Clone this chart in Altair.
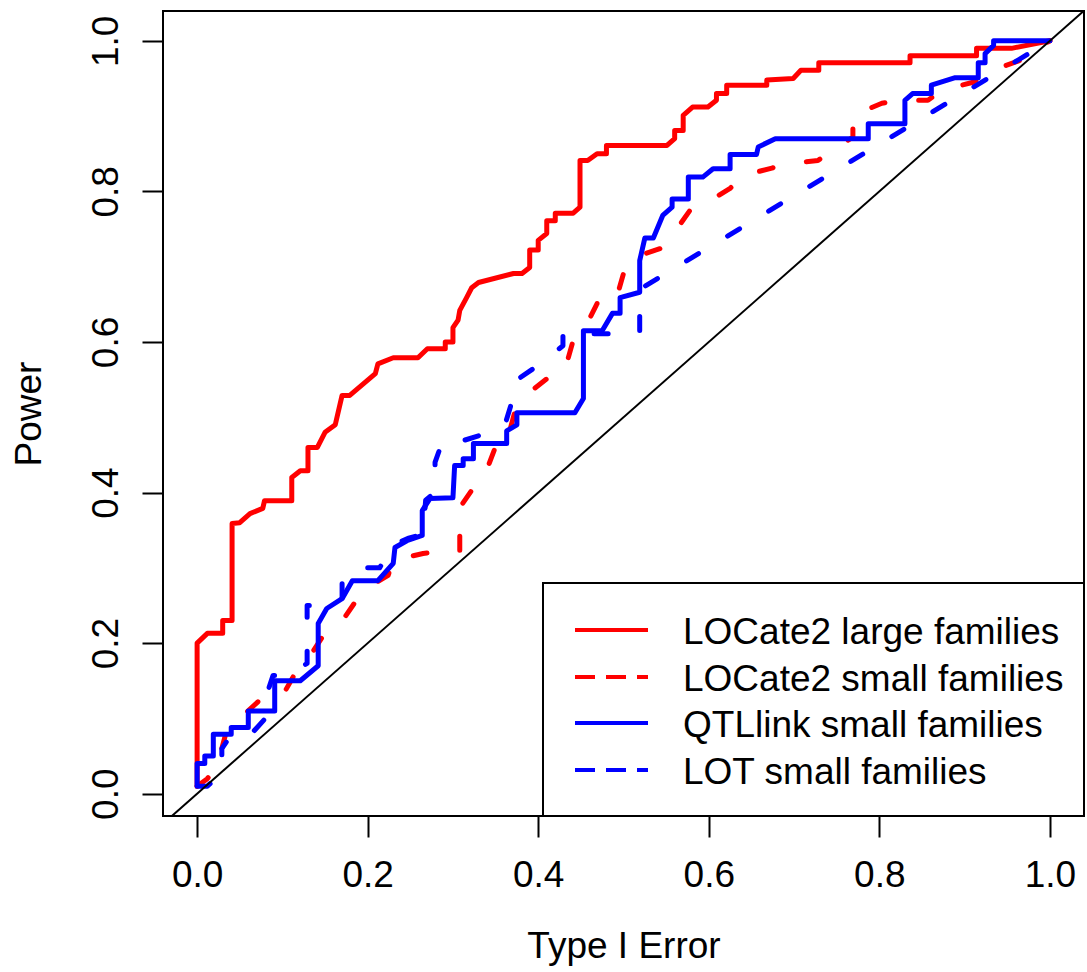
import altair as alt
import pandas as pd

# ---------------- data ----------------
series_names = ["LOCate2 large families", "LOCate2 small families",
                "QTLlink small families", "LOT small families"]
series_colors = ["#FF0000", "#FF0000", "#0000FF", "#0000FF"]
series_dashed = [False, True, False, True]
x_ticks = [0.0, 0.2, 0.4, 0.6, 0.8, 1.0]
y_ticks = [0.0, 0.2, 0.4, 0.6, 0.8, 1.0]

locate2_large = [
    (0, 0.01), (0, 0.2), (0.012, 0.213), (0.03, 0.213), (0.03, 0.23), (0.041, 0.23),
    (0.041, 0.359), (0.05, 0.36), (0.062, 0.372), (0.077, 0.379), (0.079, 0.389),
    (0.111, 0.389), (0.111, 0.42), (0.121, 0.429), (0.130, 0.429), (0.130, 0.46),
    (0.141, 0.46), (0.150, 0.48), (0.162, 0.49), (0.170, 0.529), (0.179, 0.529),
    (0.209, 0.558), (0.212, 0.571), (0.23, 0.579), (0.259, 0.579), (0.27, 0.591),
    (0.291, 0.591), (0.291, 0.6), (0.3, 0.6), (0.3, 0.619), (0.306, 0.629),
    (0.308, 0.642), (0.316, 0.659), (0.322, 0.672), (0.33, 0.679), (0.371, 0.691),
    (0.381, 0.691), (0.39, 0.699), (0.39, 0.722), (0.4, 0.722), (0.4, 0.735),
    (0.41, 0.744), (0.41, 0.761), (0.42, 0.761), (0.42, 0.771), (0.441, 0.771),
    (0.449, 0.779), (0.449, 0.841), (0.458, 0.841), (0.469, 0.85), (0.48, 0.85),
    (0.48, 0.861), (0.551, 0.861), (0.56, 0.87), (0.56, 0.881), (0.57, 0.881),
    (0.57, 0.901), (0.581, 0.912), (0.599, 0.912), (0.609, 0.921), (0.609, 0.93),
    (0.621, 0.93), (0.621, 0.941), (0.668, 0.941), (0.668, 0.948), (0.699, 0.95),
    (0.708, 0.961), (0.729, 0.961), (0.729, 0.971), (0.836, 0.971), (0.836, 0.98),
    (0.914, 0.98), (0.914, 0.99), (0.955, 0.99), (1.0, 1.0),
]

locate2_small = [
    (0, 0.01), (0.012, 0.02), (0.029, 0.044), (0.029, 0.06), (0.036, 0.09),
    (0.05, 0.10), (0.077, 0.128), (0.1, 0.13), (0.115, 0.16), (0.129, 0.177),
    (0.148, 0.21), (0.168, 0.226), (0.185, 0.254), (0.197, 0.272), (0.224, 0.29),
    (0.23, 0.31), (0.265, 0.319), (0.287, 0.322), (0.308, 0.322), (0.308, 0.38),
    (0.322, 0.403), (0.338, 0.425), (0.349, 0.458), (0.361, 0.458), (0.373, 0.509),
    (0.385, 0.529), (0.41, 0.551), (0.431, 0.562), (0.44, 0.598), (0.453, 0.615),
    (0.469, 0.651), (0.49, 0.651), (0.5, 0.691), (0.511, 0.712), (0.543, 0.724),
    (0.557, 0.741), (0.578, 0.775), (0.596, 0.784), (0.625, 0.804), (0.64, 0.821),
    (0.674, 0.831), (0.693, 0.837), (0.728, 0.841), (0.744, 0.854), (0.769, 0.872),
    (0.769, 0.901), (0.803, 0.917), (0.822, 0.921), (0.857, 0.921), (0.873, 0.934),
    (0.91, 0.945), (0.93, 0.96), (0.965, 0.974), (0.985, 0.99), (1.0, 1.0),
]

qtllink_small = [
    (0, 0.012), (0, 0.04), (0.009, 0.04), (0.009, 0.05), (0.019, 0.05), (0.019, 0.079),
    (0.04, 0.079), (0.04, 0.088), (0.06, 0.088), (0.06, 0.11), (0.091, 0.11),
    (0.091, 0.15), (0.121, 0.15), (0.142, 0.17), (0.142, 0.226), (0.152, 0.246),
    (0.17, 0.259), (0.182, 0.283), (0.212, 0.283), (0.23, 0.306), (0.232, 0.327),
    (0.246, 0.336), (0.264, 0.343), (0.264, 0.376), (0.273, 0.392), (0.3, 0.393),
    (0.302, 0.436), (0.312, 0.436), (0.312, 0.445), (0.324, 0.445), (0.324, 0.465),
    (0.363, 0.465), (0.363, 0.482), (0.375, 0.49), (0.375, 0.506), (0.443, 0.506),
    (0.453, 0.525), (0.453, 0.615), (0.475, 0.615), (0.487, 0.638), (0.496, 0.638),
    (0.496, 0.659), (0.519, 0.666), (0.519, 0.708), (0.525, 0.738), (0.535, 0.738),
    (0.546, 0.768), (0.557, 0.779), (0.557, 0.79), (0.576, 0.79), (0.576, 0.819),
    (0.593, 0.819), (0.605, 0.83), (0.625, 0.83), (0.625, 0.849), (0.656, 0.849),
    (0.658, 0.859), (0.678, 0.87), (0.787, 0.87), (0.787, 0.89), (0.83, 0.89),
    (0.83, 0.921), (0.839, 0.93), (0.861, 0.93), (0.861, 0.941), (0.889, 0.951),
    (0.916, 0.951), (0.916, 0.971), (0.924, 0.971), (0.924, 0.983), (0.934, 0.994),
    (0.934, 1.0), (1.0, 1.0),
]

lot_small = [
    (0, 0.01), (0.012, 0.01), (0.029, 0.028), (0.029, 0.06), (0.041, 0.08),
    (0.064, 0.08), (0.08, 0.1), (0.08, 0.126), (0.089, 0.157), (0.105, 0.157),
    (0.129, 0.173), (0.129, 0.25), (0.141, 0.25), (0.17, 0.26), (0.17, 0.286),
    (0.191, 0.3), (0.214, 0.3), (0.23, 0.33), (0.247, 0.339), (0.265, 0.345),
    (0.268, 0.39), (0.279, 0.4), (0.279, 0.44), (0.288, 0.469), (0.312, 0.469),
    (0.343, 0.48), (0.361, 0.49), (0.369, 0.52), (0.369, 0.545), (0.396, 0.566),
    (0.41, 0.578), (0.429, 0.595), (0.429, 0.611), (0.496, 0.611), (0.519, 0.612),
    (0.519, 0.67), (1.0, 1.0),
]

series_points = [locate2_large, locate2_small, qtllink_small, lot_small]
diagonal = [(-0.0296, -0.0296), (1.0396, 1.0396)]

# ---------------- layout ----------------
W, H = 921, 805
FONT = "Liberation Sans"
FS = 37

xscale = alt.Scale(domain=[-0.04, 1.04], nice=False, zero=False)
yscale = alt.Scale(domain=[-0.0296, 1.0396], nice=False, zero=False)

x_axis = alt.Axis(values=x_ticks, format=".1f", title="Type I Error", grid=False,
                  domain=False, tickSize=21, tickWidth=2, tickColor="black",
                  labelFont=FONT, labelFontSize=FS, labelColor="black",
                  labelPadding=20, labelFlush=False, labelOverlap=False,
                  titleFont=FONT, titleFontSize=FS, titleFontWeight="normal",
                  titleColor="black", titleX=W / 2, titleY=141,
                  titleAlign="center", titleBaseline="alphabetic")
y_axis = alt.Axis(values=y_ticks, format=".1f", title="Power", grid=False,
                  domain=False, tickSize=21, tickWidth=2, tickColor="black",
                  labelFont=FONT, labelFontSize=FS, labelColor="black",
                  labelAngle=270, labelAlign="center", labelBaseline="alphabetic",
                  labelPadding=25, labelFlush=False, labelOverlap=False,
                  titleFont=FONT, titleFontSize=FS, titleFontWeight="normal",
                  titleColor="black", titleAngle=270, titleX=-123, titleY=H / 2,
                  titleAlign="center", titleBaseline="alphabetic")


def to_df(pts):
    return pd.DataFrame({"x": [p[0] for p in pts], "y": [p[1] for p in pts],
                         "i": list(range(len(pts)))})


def xy(df, mark):
    return alt.Chart(df).mark_line(**mark).encode(
        x=alt.X("x:Q", scale=xscale, axis=x_axis),
        y=alt.Y("y:Q", scale=yscale, axis=y_axis),
        order=alt.Order("i:Q"),
    )


layers = []
for k, pts in enumerate(series_points):
    mk = dict(color=series_colors[k], strokeWidth=5, strokeCap="round",
              strokeJoin="round", clip=True)
    if series_dashed[k]:
        mk["strokeDash"] = [14, 34]
    layers.append(xy(to_df(pts), mk))

layers.append(xy(to_df(diagonal), dict(color="black", strokeWidth=2)))

# legend box (R style)
one = pd.DataFrame({"a": [0]})
layers.append(
    alt.Chart(one).mark_rect(fill="white", stroke="black", strokeWidth=2).encode(
        x=alt.value(380), x2=alt.value(W), y=alt.value(572), y2=alt.value(H)
    )
)
row_y = [619, 666, 712, 759]
for k, name in enumerate(series_names):
    mk = dict(color=series_colors[k], strokeWidth=4, strokeCap="butt")
    if series_dashed[k]:
        mk["strokeDash"] = [20, 11]
    layers.append(
        alt.Chart(one).mark_rule(**mk).encode(
            x=alt.value(412), x2=alt.value(485), y=alt.value(row_y[k])
        )
    )
    layers.append(
        alt.Chart(one).mark_text(text=name, font=FONT, fontSize=FS, color="black",
                                 align="left", baseline="alphabetic").encode(
            x=alt.value(520), y=alt.value(row_y[k] + 14)
        )
    )

chart = alt.layer(*layers).properties(
    width=W, height=H,
    autosize=alt.AutoSizeParams(type="none"),
    padding={"left": 163, "top": 11, "right": 3, "bottom": 156},
    background="white",
).configure_view(stroke="black", strokeWidth=2)

chart.save("out.html", embed_options={"renderer": "svg", "actions": False})
